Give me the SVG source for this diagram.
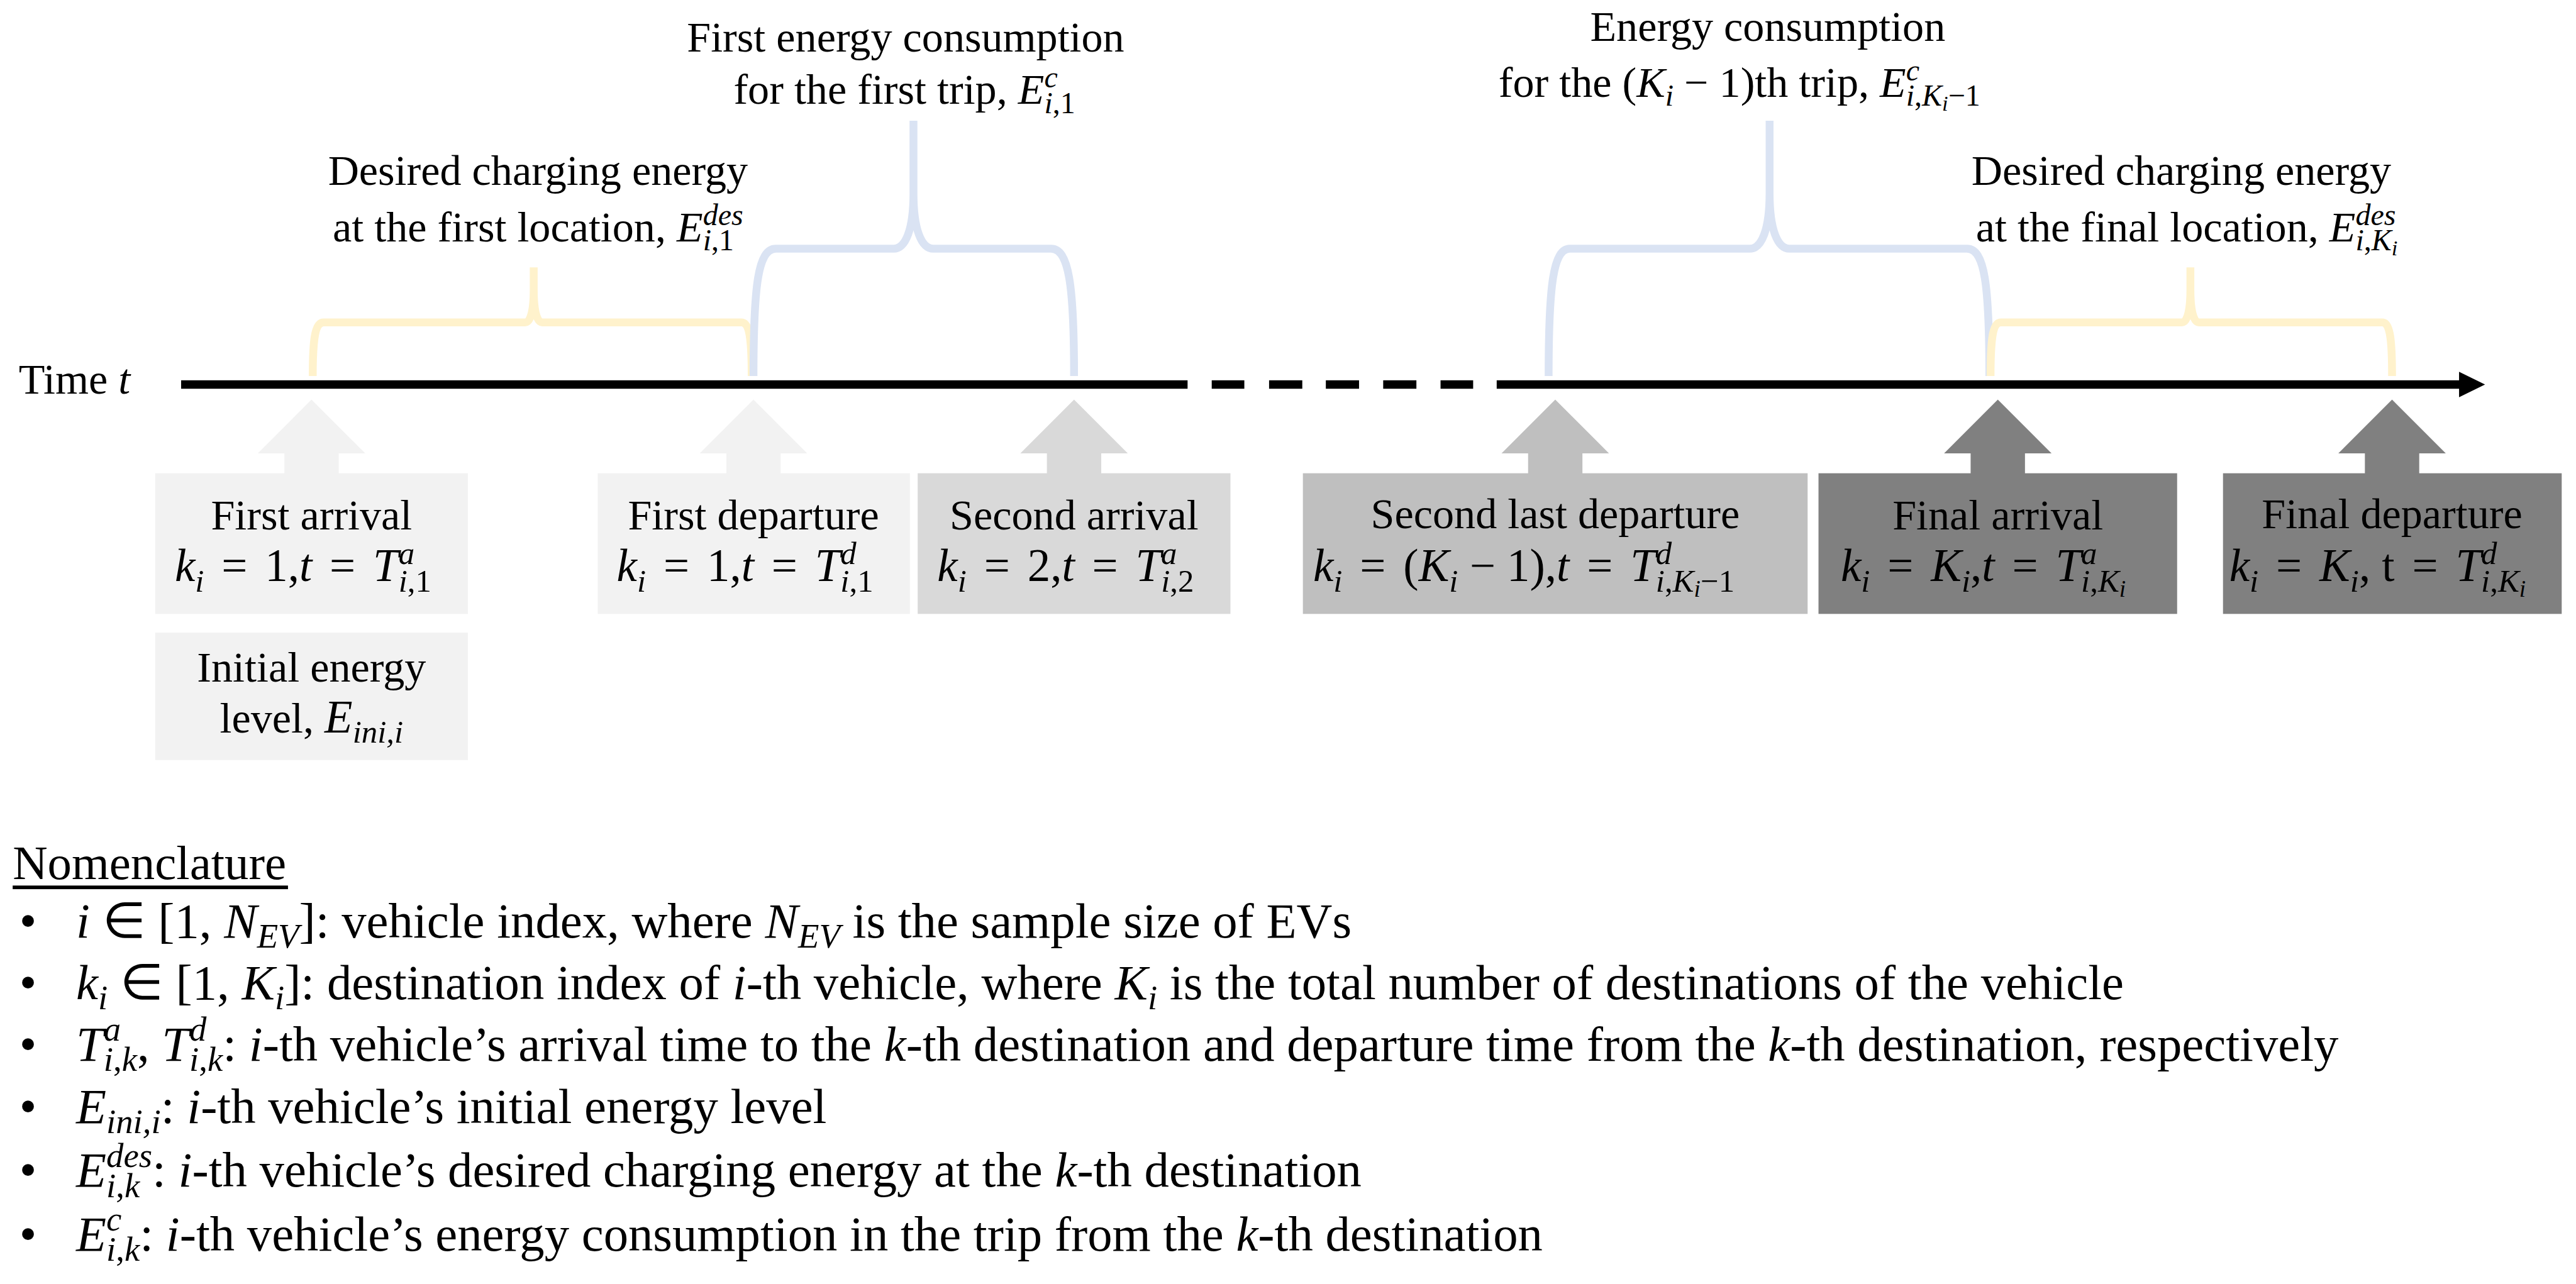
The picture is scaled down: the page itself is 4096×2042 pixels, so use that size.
<svg xmlns="http://www.w3.org/2000/svg" width="4096" height="2042" viewBox="0 0 4096 2042">
<style>
text{font-family:"Liberation Serif","Times New Roman",serif;fill:#000}
.l{font-size:71px}
.mb{font-size:76px}
.it{font-style:italic}
.s{font-size:53px}
.s5{font-size:50px}
.ss{font-size:39px}
.ss5{font-size:36px}
.nm{font-size:80px}
.nb{font-size:82px}
.ns{font-size:57px}
.yb{fill:none;stroke:#FFF2CC;stroke-width:13;stroke-linejoin:bevel}
.bb{fill:none;stroke:#DAE3F3;stroke-width:13;stroke-linejoin:bevel}
.c1{fill:#F2F2F2}.c2{fill:#D9D9D9}.c3{fill:#BFBFBF}.c4{fill:#808080}
</style>
<defs>
<path id="up" d="M0,662 L89,751 L45,751 L45,785 L-45,785 L-45,751 L-89,751Z"/>
</defs>
<rect width="4096" height="2042" fill="#fff"/>
<g transform="scale(0.96)">

<g id="connectors">
  <g id="time-axis" fill="#000">
    <rect x="300" y="630" width="1667" height="14"/>
    <rect x="2007" y="630" width="54" height="14"/>
    <rect x="2102" y="630" width="55" height="14"/>
    <rect x="2196" y="630" width="55" height="14"/>
    <rect x="2291" y="630" width="55" height="14"/>
    <rect x="2386" y="630" width="54" height="14"/>
    <rect x="2479" y="630" width="1596" height="14"/>
    <polygon points="4073,616 4116,637 4073,658"/>
  </g>
  <use href="#up" x="516" class="c1"/>
  <use href="#up" x="1248" class="c1"/>
  <use href="#up" x="1779" class="c2"/>
  <use href="#up" x="2576" class="c3"/>
  <use href="#up" x="3309" class="c4"/>
  <use href="#up" x="3962" class="c4"/>
  <path class="yb" d="M518,623 C518,565 521,534 536,534 L870,534 C880,534 884,510 884,480 L884,443 L884,480 C884,510 888,534 898,534 L1228,534 C1242,534 1245,565 1245,623"/>
  <path class="bb" d="M1248,623 C1248,470 1256,412 1285,412 L1480,412 C1500,412 1513,380 1513,320 L1513,200 L1513,320 C1513,380 1526,412 1546,412 L1741,412 C1770,412 1779,470 1779,623"/>
  <path class="bb" d="M2565,623 C2565,470 2573,412 2600,412 L2898,412 C2918,412 2931,380 2931,320 L2931,200 L2931,320 C2931,380 2944,412 2964,412 L3258,412 C3287,412 3295,470 3295,623"/>
  <path class="yb" d="M3297,623 C3297,565 3300,534 3314,534 L3614,534 C3624,534 3628,510 3628,480 L3628,443 L3628,480 C3628,510 3632,534 3642,534 L3946,534 C3959,534 3962,565 3962,623"/>
</g>

<g id="axis-label">
  <text class="l" x="31" y="652">Time <tspan class="it">t</tspan></text>
</g>

<g id="label-desired-first">
  <text class="l" x="891" y="306" text-anchor="middle">Desired charging energy</text>
  <text class="l" x="891" y="400" text-anchor="middle">at the first location, <tspan class="it">E</tspan><tspan class="s5" dy="15"><tspan class="it">i</tspan>,1</tspan><tspan class="s5 it" dx="-51.4" dy="-42">des</tspan></text>
</g>
<g id="label-consumption-first">
  <text class="l" x="1500" y="85" text-anchor="middle">First energy consumption</text>
  <text class="l" x="1498" y="172" text-anchor="middle">for the first trip, <tspan class="it">E</tspan><tspan class="s5" dy="15"><tspan class="it">i</tspan>,1</tspan><tspan class="s5 it" dx="-51.4" dy="-42">c</tspan></text>
</g>
<g id="label-consumption-last">
  <text class="l" x="2928" y="68" text-anchor="middle">Energy consumption</text>
  <text class="l" x="2881" y="160" text-anchor="middle">for the (<tspan class="it">K</tspan><tspan class="s5 it" dy="15">i</tspan><tspan dy="-15"> − 1)th trip, </tspan><tspan class="it">E</tspan><tspan class="s5" dy="15"><tspan class="it">i</tspan>,<tspan class="it">K</tspan><tspan class="ss5 it" dy="8">i</tspan><tspan dy="-8">−1</tspan></tspan><tspan class="s5 it" dx="-123" dy="-42">c</tspan></text>
</g>
<g id="label-desired-final">
  <text class="l" x="3613" y="306" text-anchor="middle">Desired charging energy</text>
  <text class="l" x="3622" y="400" text-anchor="middle">at the final location, <tspan class="it">E</tspan><tspan class="s5" dy="15"><tspan class="it">i</tspan>,<tspan class="it">K</tspan><tspan class="ss5 it" dy="8">i</tspan></tspan><tspan class="s5 it" dx="-69.8" dy="-50">des</tspan></text>
</g>

<g id="node-first-arrival">
  <rect class="c1" x="257" y="784" width="518" height="233"/>
  <text class="l" x="516" y="877" text-anchor="middle">First arrival</text>
  <text class="mb" x="502" y="962" text-anchor="middle"><tspan class="it">k</tspan><tspan class="s it" dy="18">i</tspan><tspan dy="-18" dx="10"> = </tspan><tspan dx="10">1,</tspan><tspan class="it">t</tspan><tspan dx="10"> = </tspan><tspan class="it" dx="10">T</tspan><tspan class="s" dy="18"><tspan class="it">i</tspan>,1</tspan><tspan class="s it" dx="-54.5" dy="-46">a</tspan></text>
</g>
<g id="node-initial-energy">
  <rect class="c1" x="257" y="1048" width="518" height="211"/>
  <text class="l" x="516" y="1129" text-anchor="middle">Initial energy</text>
  <text class="l" x="516" y="1214" text-anchor="middle">level, <tspan class="mb it">E</tspan><tspan class="s it" dy="16">ini,i</tspan></text>
</g>
<g id="node-first-departure">
  <rect class="c1" x="990" y="784" width="517" height="233"/>
  <text class="l" x="1248" y="877" text-anchor="middle">First departure</text>
  <text class="mb" x="1234" y="962" text-anchor="middle"><tspan class="it">k</tspan><tspan class="s it" dy="18">i</tspan><tspan dy="-18" dx="10"> = </tspan><tspan dx="10">1,</tspan><tspan class="it">t</tspan><tspan dx="10"> = </tspan><tspan class="it" dx="10">T</tspan><tspan class="s" dy="18"><tspan class="it">i</tspan>,1</tspan><tspan class="s it" dx="-54.5" dy="-46">d</tspan></text>
</g>
<g id="node-second-arrival">
  <rect class="c2" x="1520" y="784" width="518" height="233"/>
  <text class="l" x="1779" y="877" text-anchor="middle">Second arrival</text>
  <text class="mb" x="1765" y="962" text-anchor="middle"><tspan class="it">k</tspan><tspan class="s it" dy="18">i</tspan><tspan dy="-18" dx="10"> = </tspan><tspan dx="10">2,</tspan><tspan class="it">t</tspan><tspan dx="10"> = </tspan><tspan class="it" dx="10">T</tspan><tspan class="s" dy="18"><tspan class="it">i</tspan>,2</tspan><tspan class="s it" dx="-54.5" dy="-46">a</tspan></text>
</g>
<g id="node-second-last-departure">
  <rect class="c3" x="2158" y="784" width="836" height="233"/>
  <text class="l" x="2576" y="875" text-anchor="middle">Second last departure</text>
  <text class="mb" x="2524" y="962" text-anchor="middle"><tspan class="it">k</tspan><tspan class="s it" dy="18">i</tspan><tspan dy="-18" dx="10"> = </tspan><tspan dx="10">(</tspan><tspan class="it">K</tspan><tspan class="s it" dy="18">i</tspan><tspan dy="-18"> − 1),</tspan><tspan class="it">t</tspan><tspan dx="10"> = </tspan><tspan class="it" dx="10">T</tspan><tspan class="s" dy="18"><tspan class="it">i</tspan>,<tspan class="it">K</tspan><tspan class="ss it" dy="9">i</tspan><tspan dy="-9">−1</tspan></tspan><tspan class="s it" dx="-130.5" dy="-46">d</tspan></text>
</g>
<g id="node-final-arrival">
  <rect class="c4" x="3012" y="784" width="594" height="233"/>
  <text class="l" x="3309" y="877" text-anchor="middle">Final arrival</text>
  <text class="mb" x="3285" y="962" text-anchor="middle"><tspan class="it">k</tspan><tspan class="s it" dy="18">i</tspan><tspan dy="-18" dx="10"> = </tspan><tspan class="it" dx="10">K</tspan><tspan class="s it" dy="18">i</tspan><tspan dy="-18">,</tspan><tspan class="it">t</tspan><tspan dx="10"> = </tspan><tspan class="it" dx="10">T</tspan><tspan class="s" dy="18"><tspan class="it">i</tspan>,<tspan class="it">K</tspan><tspan class="ss it" dy="9">i</tspan></tspan><tspan class="s it" dx="-74.1" dy="-55">a</tspan></text>
</g>
<g id="node-final-departure">
  <rect class="c4" x="3682" y="784" width="561" height="233"/>
  <text class="l" x="3962" y="875" text-anchor="middle">Final departure</text>
  <text class="mb" x="3938" y="962" text-anchor="middle"><tspan class="it">k</tspan><tspan class="s it" dy="18">i</tspan><tspan dy="-18" dx="10"> = </tspan><tspan class="it" dx="10">K</tspan><tspan class="s it" dy="18">i</tspan><tspan dy="-18">, t</tspan><tspan dx="10"> = </tspan><tspan class="it" dx="10">T</tspan><tspan class="s" dy="18"><tspan class="it">i</tspan>,<tspan class="it">K</tspan><tspan class="ss it" dy="9">i</tspan></tspan><tspan class="s it" dx="-74.1" dy="-55">d</tspan></text>
</g>

<g id="nomenclature">
  <text class="nm" x="21" y="1456">Nomenclature</text>
  <rect x="21" y="1467" width="456" height="6" fill="#000"/>
  <g class="bullets">
    <text class="nb" x="32" y="1553">•</text>
    <text class="nb" x="32" y="1655">•</text>
    <text class="nb" x="32" y="1757">•</text>
    <text class="nb" x="32" y="1860">•</text>
    <text class="nb" x="32" y="1966">•</text>
    <text class="nb" x="32" y="2072">•</text>
  </g>
  <text class="nb" x="126" y="1553"><tspan class="it">i</tspan> ∈ [1, <tspan class="it">N</tspan><tspan class="ns it" dy="17">EV</tspan><tspan dy="-17">]: vehicle index, where </tspan><tspan class="it">N</tspan><tspan class="ns it" dy="17">EV</tspan><tspan dy="-17"> is the sample size of EVs</tspan></text>
  <text class="nb" x="126" y="1655"><tspan class="it">k</tspan><tspan class="ns it" dy="17">i</tspan><tspan dy="-17"> ∈ [1, </tspan><tspan class="it">K</tspan><tspan class="ns it" dy="17">i</tspan><tspan dy="-17">]: destination index of </tspan><tspan class="it">i</tspan>-th vehicle, where <tspan class="it">K</tspan><tspan class="ns it" dy="17">i</tspan><tspan dy="-17"> is the total number of destinations of the vehicle</tspan></text>
  <text class="nb" x="126" y="1757"><tspan class="it">T</tspan><tspan class="ns" dy="17"><tspan class="it">i</tspan>,<tspan class="it">k</tspan></tspan><tspan class="ns it" dx="-55.4" dy="-50">a</tspan><tspan dx="26.9" dy="33">, </tspan><tspan class="it">T</tspan><tspan class="ns" dy="17"><tspan class="it">i</tspan>,<tspan class="it">k</tspan></tspan><tspan class="ns it" dx="-55.4" dy="-50">d</tspan><tspan dx="26.9" dy="33">: </tspan><tspan class="it">i</tspan>-th vehicle’s arrival time to the <tspan class="it">k</tspan>-th destination and departure time from the <tspan class="it">k</tspan>-th destination, respectively</text>
  <text class="nb" x="126" y="1860"><tspan class="it">E</tspan><tspan class="ns it" dy="17">ini,i</tspan><tspan dy="-17">: </tspan><tspan class="it">i</tspan>-th vehicle’s initial energy level</text>
  <text class="nb" x="126" y="1966"><tspan class="it">E</tspan><tspan class="ns" dy="17"><tspan class="it">i</tspan>,<tspan class="it">k</tspan></tspan><tspan class="ns it" dx="-55.4" dy="-50">des</tspan><tspan dy="33">: </tspan><tspan class="it">i</tspan>-th vehicle’s desired charging energy at the <tspan class="it">k</tspan>-th destination</text>
  <text class="nb" x="126" y="2072"><tspan class="it">E</tspan><tspan class="ns" dy="17"><tspan class="it">i</tspan>,<tspan class="it">k</tspan></tspan><tspan class="ns it" dx="-55.4" dy="-50">c</tspan><tspan dx="30.1" dy="33">: </tspan><tspan class="it">i</tspan>-th vehicle’s energy consumption in the trip from the <tspan class="it">k</tspan>-th destination</text>
</g>

</g>
</svg>
